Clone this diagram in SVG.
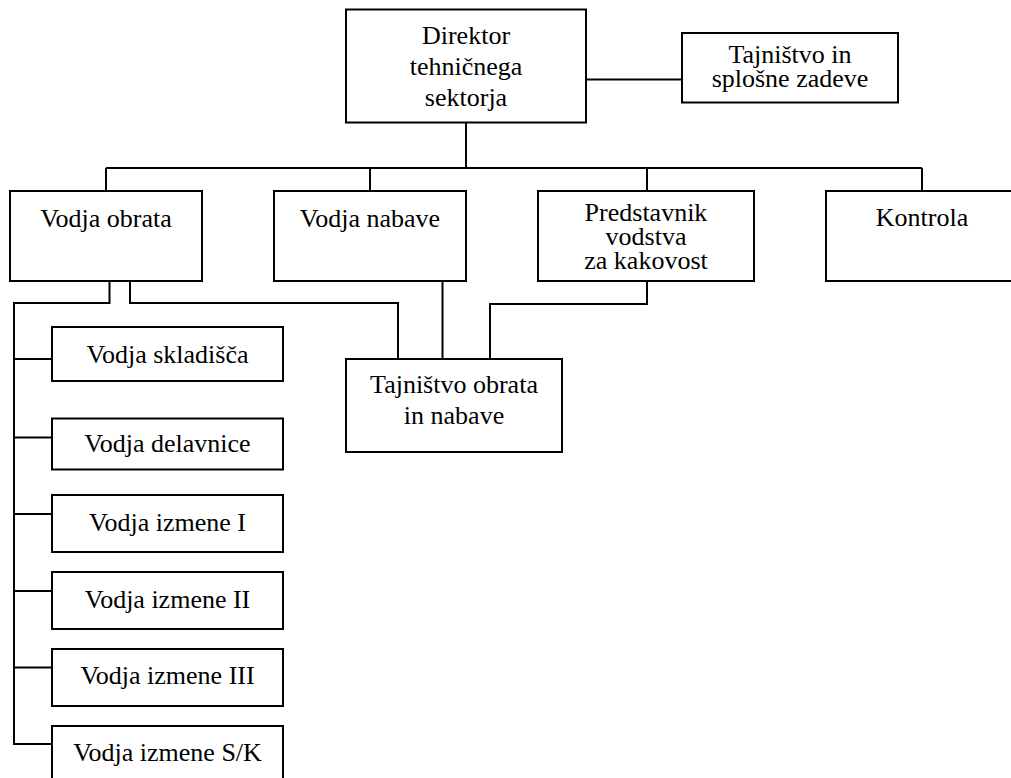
<svg xmlns="http://www.w3.org/2000/svg" width="1011" height="778" viewBox="0 0 1011 778">
<style>
.box{fill:#fff;stroke:#000;stroke-width:2}
.ln{fill:none;stroke:#000;stroke-width:2}
text{font-family:"Liberation Serif","Times New Roman",serif;font-size:26px;fill:#000;text-anchor:middle}
</style>
<rect x="0" y="0" width="1011" height="778" fill="#fff"/>
<g id="connectors" class="ln">
<path d="M586 79.5H682"/>
<path d="M466 122V168"/>
<path d="M106 168H922"/>
<path d="M106 168V191M370 168V191M647 168V191M922 168V191"/>
<path d="M109.5 281V303H14V744H52"/>
<path d="M14 359H52M14 437.5H52M14 514H52M14 591H52M14 667.5H52"/>
<path d="M130 281V303H398V359"/>
<path d="M442.5 281V359"/>
<path d="M647 281V304H490V359"/>
</g>
<g id="director"><rect class="box" x="346" y="9.5" width="240" height="113"/><text x="466" y="44">Direktor</text><text x="466" y="75">tehničnega</text><text x="466" y="106">sektorja</text></g>
<g id="tajnistvo-splosne"><rect class="box" x="682" y="33" width="216" height="69.5"/><text x="790" y="63">Tajništvo in</text><text x="790" y="87">splošne zadeve</text></g>
<g id="vodja-obrata"><rect class="box" x="10" y="191" width="192" height="90"/><text x="106" y="227">Vodja obrata</text></g>
<g id="vodja-nabave"><rect class="box" x="274" y="191" width="192" height="90"/><text x="370" y="227">Vodja nabave</text></g>
<g id="predstavnik"><rect class="box" x="538" y="191" width="216" height="90"/><text x="646" y="221">Predstavnik</text><text x="646" y="245">vodstva</text><text x="646" y="269">za kakovost</text></g>
<g id="kontrola"><rect class="box" x="826" y="191" width="196" height="90"/><text x="922" y="226">Kontrola</text></g>
<g id="tajnistvo-obrata"><rect class="box" x="346" y="359" width="216" height="93"/><text x="454" y="393">Tajništvo obrata</text><text x="454" y="424">in nabave</text></g>
<g id="skladisca"><rect class="box" x="52" y="327" width="231" height="54"/><text x="167.5" y="363">Vodja skladišča</text></g>
<g id="delavnice"><rect class="box" x="52" y="418.5" width="231" height="51"/><text x="167.5" y="452">Vodja delavnice</text></g>
<g id="izmene-1"><rect class="box" x="52" y="495" width="231" height="57"/><text x="167.5" y="531">Vodja izmene I</text></g>
<g id="izmene-2"><rect class="box" x="52" y="572" width="231" height="57"/><text x="167.5" y="608">Vodja izmene II</text></g>
<g id="izmene-3"><rect class="box" x="52" y="649" width="231" height="57"/><text x="167.5" y="684">Vodja izmene III</text></g>
<g id="izmene-sk"><rect class="box" x="52" y="726" width="231" height="60"/><text x="167.5" y="761">Vodja izmene S/K</text></g>
</svg>
